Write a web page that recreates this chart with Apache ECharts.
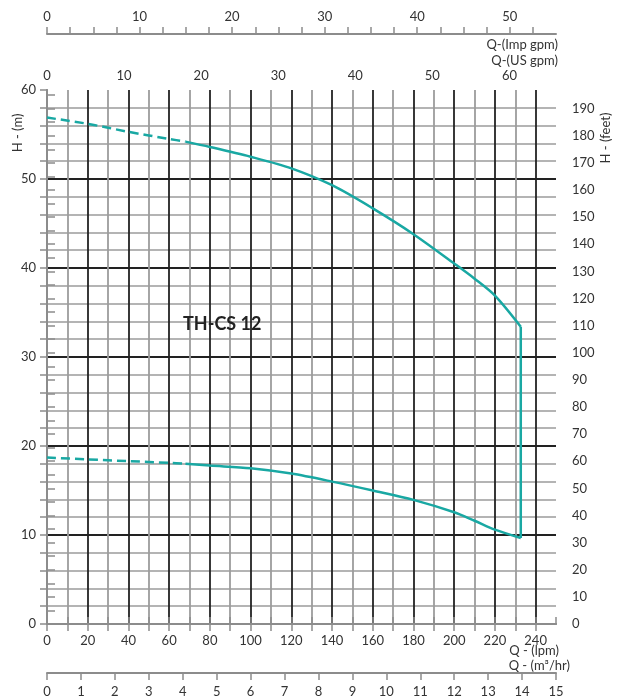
<!DOCTYPE html>
<html>
<head>
<meta charset="utf-8">
<script src="https://cdn.jsdelivr.net/npm/echarts@6/dist/echarts.min.js"></script>
<style>
  html, body { margin: 0; padding: 0; background: #fff; }
  #chart { width: 622px; height: 700px; }
</style>
</head>
<body>
<div id="chart"></div>
<script>
// Flow (lpm) and head (m) readings
const qDash = [0, 20, 40, 60, 68];
const hUpperDash = [56.9, 56.2, 55.3, 54.5, 54.2];
const hLowerDash = [18.7, 18.5, 18.3, 18.1, 18.0];
const qSolid = [68, 80, 100, 120, 140, 160, 180, 200, 210, 220, 232.7];
const hUpperSolid = [54.2, 53.6, 52.5, 51.2, 49.3, 46.7, 43.8, 40.5, 38.8, 36.9, 33.4];
const hLowerSolid = [18.0, 17.8, 17.5, 16.9, 16.0, 15.0, 13.95, 12.55, 11.6, 10.6, 9.66];
const modelName = 'TH-CS 12';

const LPM_MAX = 250;
const M_MAX = 60;

const pairs = (xs, ys) => xs.map((x, i) => [x, ys[i]]);
const qEnd = qSolid[qSolid.length - 1];
const vertical = [[qEnd, hUpperSolid[hUpperSolid.length - 1]], [qEnd, hLowerSolid[hLowerSolid.length - 1]]];

const FONT = 'Lato';
const TXT = '#333';
const AX = '#8c8c8c';
const MINOR = '#9c9c9c';
const MAJOR = '#222';
const CURVE = '#19a8a3';

const lbl = (extra) => Object.assign({ color: TXT, fontFamily: FONT, fontSize: 13 }, extra);

const chart = echarts.init(document.getElementById('chart'), null, { renderer: 'canvas' });
chart.setOption({
  animation: false,
  backgroundColor: '#fff',
  grid: { left: 47, right: 66, top: 90, bottom: 76, containLabel: false },
  xAxis: [
    { // 0: lpm bottom
      type: 'value', position: 'bottom', min: 0, max: LPM_MAX, interval: 10,
      axisLine: { lineStyle: { color: AX, width: 2 } },
      axisTick: { length: 7, lineStyle: { color: AX, width: 1.5 } },
      axisLabel: lbl({ margin: 10, showMaxLabel: false, formatter: v => (v % 20 === 0 && v < LPM_MAX) ? String(v) : '' }),
      splitLine: { show: true, showMinLine: false, showMaxLine: false, lineStyle: { color: [MINOR, MAJOR], width: 1.8 } }
    },
    { // 1: lpm top ticks
      type: 'value', position: 'top', min: 0, max: LPM_MAX, interval: 10,
      axisLine: { lineStyle: { color: AX, width: 2 } },
      axisTick: { length: 7, lineStyle: { color: AX, width: 1.5 } },
      axisLabel: { show: false }, splitLine: { show: false }
    },
    { // 2: US gpm labels
      type: 'value', position: 'top', min: 0, max: LPM_MAX / 3.78541, interval: 10,
      axisLine: { show: false }, axisTick: { show: false },
      axisLabel: lbl({ margin: 8, showMaxLabel: false }), splitLine: { show: false }
    },
    { // 3: Imp gpm axis
      type: 'value', position: 'top', offset: 56, min: 0, max: LPM_MAX / 4.54609, interval: 2.5,
      axisLine: { lineStyle: { color: AX, width: 2 } },
      axisTick: { length: 7, lineStyle: { color: AX, width: 1.5 } },
      axisLabel: lbl({ margin: 11, showMaxLabel: false, formatter: v => (Math.abs(v % 10) < 1e-6) ? String(v) : '' }),
      splitLine: { show: false }
    },
    { // 4: m3/hr axis
      type: 'value', position: 'bottom', offset: 49, min: 0, max: LPM_MAX * 60 / 1000, interval: 1,
      axisLine: { lineStyle: { color: AX, width: 2 } },
      axisTick: { length: 7, lineStyle: { color: AX, width: 1.5 } },
      axisLabel: lbl({ margin: 12 }),
      splitLine: { show: false }
    }
  ],
  yAxis: [
    { // 0: metres
      type: 'value', position: 'left', min: 0, max: M_MAX, interval: 10,
      axisLine: { lineStyle: { color: AX, width: 2 } },
      axisTick: { length: 7, lineStyle: { color: AX, width: 1.5 } },
      minorTick: { show: true, splitNumber: 5, length: 7, lineStyle: { color: AX, width: 1.5 } },
      axisLabel: lbl({ margin: 11 }),
      splitLine: { show: true, showMinLine: false, showMaxLine: false, lineStyle: { color: MAJOR, width: 2 } },
      minorSplitLine: { show: true, lineStyle: { color: MINOR, width: 1.5 } }
    },
    { // 1: feet
      type: 'value', position: 'right', min: 0, max: M_MAX / 0.3048, interval: 5,
      axisLine: { lineStyle: { color: AX, width: 2 } },
      axisTick: { length: 8, lineStyle: { color: AX, width: 1.5 } },
      axisLabel: lbl({ margin: 16, showMaxLabel: false, formatter: v => (Math.abs(v % 10) < 1e-6) ? String(v) : '' }),
      splitLine: { show: false }
    }
  ],
  series: [
    { type: 'line', xAxisIndex: 0, yAxisIndex: 0, data: pairs(qDash, hUpperDash), smooth: 0.3, symbol: 'none',
      lineStyle: { color: CURVE, width: 2.5, type: [9, 5] }, z: 5 },
    { type: 'line', xAxisIndex: 0, yAxisIndex: 0, data: pairs(qSolid, hUpperSolid), smooth: 0.3, symbol: 'none',
      lineStyle: { color: CURVE, width: 2.5 }, z: 5 },
    { type: 'line', xAxisIndex: 0, yAxisIndex: 0, data: pairs(qDash, hLowerDash), smooth: 0.3, symbol: 'none',
      lineStyle: { color: CURVE, width: 2.5, type: [9, 5] }, z: 5 },
    { type: 'line', xAxisIndex: 0, yAxisIndex: 0, data: pairs(qSolid, hLowerSolid), smooth: 0.3, symbol: 'none',
      lineStyle: { color: CURVE, width: 2.5 }, z: 5 },
    { type: 'line', xAxisIndex: 0, yAxisIndex: 0, data: vertical, symbol: 'none',
      lineStyle: { color: CURVE, width: 2.5 }, z: 5 }
  ],
  graphic: [
    { type: 'text', left: 183, top: 315, z: 10, style: { text: modelName, fill: '#222', font: 'bold 18px Lato' } },
    { type: 'text', x: 558, y: 45, style: { text: 'Q-(Imp gpm)', fill: TXT, font: '13px Lato', align: 'right', verticalAlign: 'middle' } },
    { type: 'text', x: 558, y: 61, style: { text: 'Q-(US gpm)', fill: TXT, font: '13px Lato', align: 'right', verticalAlign: 'middle' } },
    { type: 'text', x: 559, y: 651, style: { text: 'Q - (lpm)', fill: TXT, font: '13px Lato', align: 'right', verticalAlign: 'middle' } },
    { type: 'text', x: 570, y: 666, style: { text: 'Q - (m³/hr)', fill: TXT, font: '13px Lato', align: 'right', verticalAlign: 'middle' } },
    { type: 'text', x: 18, y: 133, rotation: Math.PI / 2, style: { text: 'H - (m)', fill: TXT, font: '13px Lato', align: 'center', verticalAlign: 'middle' } },
    { type: 'text', x: 606, y: 138, rotation: Math.PI / 2, style: { text: 'H - (feet)', fill: TXT, font: '13px Lato', align: 'center', verticalAlign: 'middle' } }
  ]
});
</script>
</body>
</html>
